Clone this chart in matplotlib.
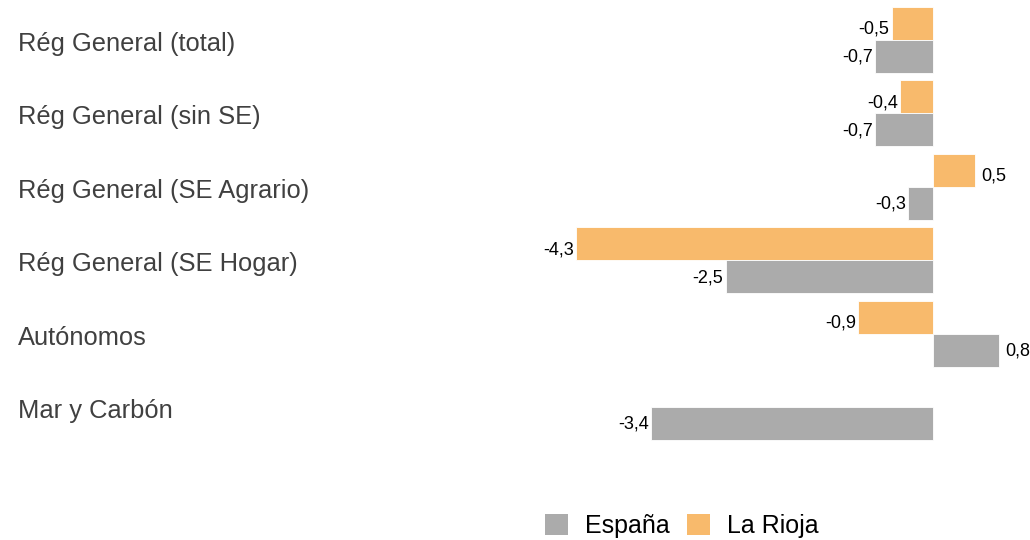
import matplotlib
matplotlib.use("Agg")
import matplotlib.pyplot as plt
import numpy as np
from matplotlib.patches import Patch

plt.rcParams['font.family'] = ['Liberation Sans', 'DejaVu Sans']

categories = ["Rég General (total)", "Rég General (sin SE)", "Rég General (SE Agrario)",
              "Rég General (SE Hogar)", "Autónomos", "Mar y Carbón"]
espana = [-0.7, -0.7, -0.3, -2.5, 0.8, -3.4]
la_rioja = [-0.5, -0.4, 0.5, -4.3, -0.9, None]

C_ESP = "#ABABAB"
C_RIO = "#F8BA6C"

W, H = 1030, 540
fig = plt.figure(figsize=(W / 100, H / 100), dpi=100)

ax_l, ax_r, ax_t, ax_b = 540, 1020, 0, 480
ax = fig.add_axes([ax_l / W, 1 - ax_b / H, (ax_r - ax_l) / W, (ax_b - ax_t) / H])
zero_px, scale = 933, 83.0
ax.set_xlim(-(zero_px - ax_l) / scale, (ax_r - zero_px) / scale)
c0, step = 40, 73.4
ax.set_ylim((ax_b - c0) / step, (ax_t - c0) / step)
ax.axis('off')

bh = 0.45
y = np.arange(len(categories))


def fmt(v):
    return f"{v:.1f}".replace(".", ",")


for vals, off, col, dy in [(la_rioja, -bh / 2, C_RIO, -4.3), (espana, bh / 2, C_ESP, -0.7)]:
    for i, v in enumerate(vals):
        if v is None:
            continue
        ax.barh(y[i] + off, v, height=bh, color=col, edgecolor='white', linewidth=0.6)
        if v < 0:
            ax.annotate(fmt(v), (v, y[i] + off), xytext=(-1.5, dy), textcoords='offset points',
                        ha='right', va='center', fontsize=13, color='black')
        else:
            ax.annotate(fmt(v), (v, y[i] + off), xytext=(4.5, dy), textcoords='offset points',
                        ha='left', va='center', fontsize=13, color='black')

for i, cat in enumerate(categories):
    ypx = c0 + step * i + 4
    fig.text(18 / W, 1 - ypx / H, cat, ha='left', va='center', fontsize=18.4, color='#404040')

handles = [Patch(facecolor=C_ESP, edgecolor='none', label='España'),
           Patch(facecolor=C_RIO, edgecolor='none', label='La Rioja')]
fig.legend(handles=handles, loc='center', bbox_to_anchor=(682 / W, 1 - 526 / H), ncol=2,
           frameon=False, fontsize=18, handlelength=0.9, handleheight=0.9,
           handletextpad=0.7, columnspacing=0.7, borderpad=0)

fig.savefig("out.png", dpi=100, facecolor='white')
